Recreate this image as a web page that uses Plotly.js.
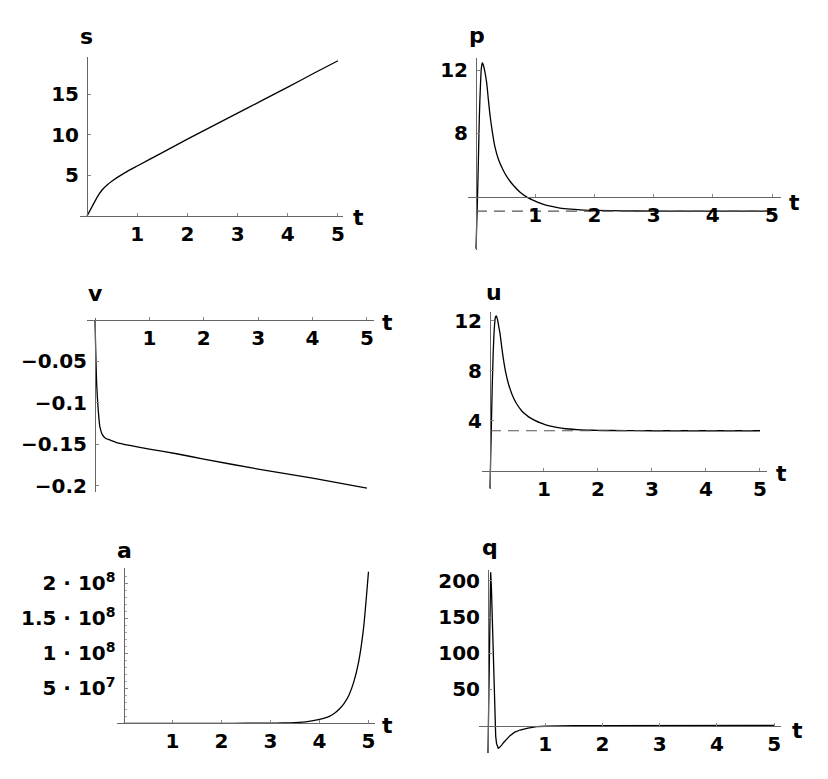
<!DOCTYPE html>
<html>
<head>
<meta charset="utf-8">
<script src="https://cdn.plot.ly/plotly-3.0.1.min.js"></script>
<style>
  html, body { margin: 0; padding: 0; background: #fff; }
  #graph { width: 828px; height: 779px; }
</style>
</head>
<body>
<div id="graph"></div>
<script>
// *********************************************************************************************
// DATA

const X_TICKS = [1, 2, 3, 4, 5];
const X_TICK_TEXT = ['1', '2', '3', '4', '5'];

const T_S = [0, 0.1, 0.2, 0.3, 0.4, 0.5, 0.75, 1, 1.5, 2, 2.5, 3, 3.5, 4, 4.5, 5];
const S = [0, 1.15, 2.3, 3.2, 3.8, 4.3, 5.3, 6.15, 7.8, 9.45, 11.05, 12.65, 14.25, 15.85, 17.5, 19.1];

const T_P = [0, 0.02, 0.04, 0.056, 0.075, 0.09, 0.107, 0.125, 0.15, 0.18, 0.21, 0.24, 0.28, 0.32, 0.38, 0.46, 0.54, 0.63, 0.74, 0.86, 1, 1.14, 1.28, 1.42, 1.6, 1.76, 2, 2.5, 3, 4, 5];
const P = [0.7, 3.2, 6.2, 9.0, 11.0, 12.1, 12.46, 12.3, 11.9, 11.2, 10.1, 9.05, 8.0, 7.15, 6.35, 5.67, 5.15, 4.72, 4.3, 3.97, 3.72, 3.51, 3.38, 3.28, 3.21, 3.17, 3.13, 3.1, 3.09, 3.09, 3.09];
const P_LIMIT = 3.09;

const T_V = [0, 0.013, 0.03, 0.06, 0.09, 0.14, 0.2, 0.28, 0.4, 0.64, 1, 1.5, 2, 3, 4, 5];
const V = [0, -0.036, -0.0765, -0.109, -0.129, -0.139, -0.143, -0.145, -0.148, -0.1515, -0.156, -0.1615, -0.168, -0.180, -0.191, -0.203];

const T_U = [0, 0.02, 0.04, 0.06, 0.08, 0.1, 0.115, 0.14, 0.16, 0.185, 0.215, 0.25, 0.29, 0.34, 0.41, 0.49, 0.59, 0.71, 0.83, 0.96, 1.1, 1.26, 1.4, 1.57, 1.8, 2, 2.5, 3, 4, 5];
const U = [-1.4, 2.5, 6.5, 9.5, 11.4, 12.3, 12.4, 12.1, 11.6, 11.0, 10.0, 8.9, 7.9, 7.0, 6.1, 5.4, 4.8, 4.35, 4.05, 3.8, 3.6, 3.46, 3.38, 3.32, 3.27, 3.25, 3.23, 3.22, 3.22, 3.22];
const U_LIMIT = 3.22;

const T_A = [0, 1, 2, 2.5, 3, 3.25, 3.5, 3.75, 4, 4.1, 4.2, 4.3, 4.4, 4.5, 4.6, 4.7, 4.8, 4.9, 5];
const A = [0, 0, 1e4, 5e4, 2e5, 4.5e5, 1e6, 2.3e6, 5.5e6, 7.5e6, 1.0e7, 1.4e7, 2.0e7, 2.8e7, 4.0e7, 5.9e7, 8.8e7, 1.36e8, 2.16e8];

const T_Q = [0, 0.015, 0.03, 0.047, 0.06, 0.08, 0.1, 0.12, 0.135, 0.15, 0.165, 0.18, 0.2, 0.22, 0.245, 0.27, 0.3, 0.33, 0.385, 0.46, 0.56, 0.7, 0.85, 1, 1.25, 1.5, 2, 3, 4, 5];
const Q = [-38, 60, 170, 212, 190, 125, 60, 5, -15, -25, -30, -31.5, -30.5, -29, -26.5, -23.8, -21, -18, -14, -9.5, -6.2, -3.5, -1.6, -1.0, -0.5, -0.3, -0.1, 0, 0, 0];

const S_TICKS = [5, 10, 15];
const S_TICK_TEXT = ['5', '10', '15'];
const P_TICKS = [8, 12];
const P_TICK_TEXT = ['8', '12'];
const V_TICKS = [-0.05, -0.1, -0.15, -0.2];
const V_TICK_TEXT = ['\u22120.05', '\u22120.1', '\u22120.15', '\u22120.2'];
const U_TICKS = [4, 8, 12];
const U_TICK_TEXT = ['4', '8', '12'];
const A_TICKS = [5e7, 1e8, 1.5e8, 2e8];
const A_TICK_TEXT = ['5 \u00b7 10<sup>7</sup>', '1 \u00b7 10<sup>8</sup>', '1.5 \u00b7 10<sup>8</sup>', '2 \u00b7 10<sup>8</sup>'];
const Q_TICKS = [50, 100, 150, 200];
const Q_TICK_TEXT = ['50', '100', '150', '200'];


// *********************************************************************************************
// PANELS (pixel boxes of each axis frame, measured on the 828 x 779 picture)

const W = 828, H = 779;
const FONT = 'DejaVu Sans, Liberation Sans, Arial, sans-serif';

const panels = [
    { name: 's', t: T_S, y: S, box: [80, 343, 57, 216], xr: [-0.14, 5.1], yr: [0, 19.56], cross: 0,
      ticks: S_TICKS, text: S_TICK_TEXT, label: [86, 37], tlabel: [358, 218], shape: 'spline' },
    { name: 'p', t: T_P, y: P, box: [468, 781, 58, 250], xr: [-0.135, 5.152], yr: [0.63, 12.76], cross: 4,
      ticks: P_TICKS, text: P_TICK_TEXT, label: [477, 35], tlabel: [794, 202], limit: P_LIMIT, shape: 'spline' },
    { name: 'v', t: T_V, y: V, box: [87, 374, 318, 492], xr: [-0.147, 5.13], yr: [-0.2077, 0.0024], cross: 0,
      ticks: V_TICKS, text: V_TICK_TEXT, label: [95, 293], tlabel: [387, 323], shape: 'spline' },
    { name: 'u', t: T_U, y: U, box: [482, 767, 311.7, 489], xr: [-0.148, 5.13], yr: [-1.44, 12.74], cross: 0,
      ticks: U_TICKS, text: U_TICK_TEXT, label: [494, 292], tlabel: [781, 473], limit: U_LIMIT, shape: 'spline' },
    { name: 'a', t: T_A, y: A, box: [117, 375, 568, 723.3], xr: [-0.133, 5.133], yr: [0, 2.214e8], cross: 0,
      ticks: A_TICKS, text: A_TICK_TEXT, label: [124, 550], tlabel: [387, 725], shape: 'spline', minor: 1e7 },
    { name: 'q', t: T_Q, y: Q, box: [479, 781, 570, 753], xr: [-0.157, 5.12], yr: [-38, 215], cross: 0,
      ticks: Q_TICKS, text: Q_TICK_TEXT, label: [490, 547], tlabel: [797, 730], shape: 'linear' }
];

const bold = (arr) => arr.map(s => '<b>' + s + '</b>');


// *********************************************************************************************
// TRACES + AXES

let data = [];
let layout = {
    width: W,
    height: H,
    margin: { t: 0, r: 0, b: 0, l: 0 },
    paper_bgcolor: '#fff',
    plot_bgcolor: '#fff',
    showlegend: false,
    annotations: []
};

const tickFont = { family: FONT, size: 20, color: '#000' };
const nameFont = { family: FONT, size: 22, color: '#000' };

panels.forEach((pn, i) => {
    const n = i + 1;
    const sfx = n === 1 ? '' : String(n);

    const [l, r, top, bot] = pn.box;
    const xdom = [l / W, r / W];
    const ydom = [1 - bot / H, 1 - top / H];

    // where the axes cross, as paper fractions
    const xpos = ydom[0] + (pn.cross - pn.yr[0]) / (pn.yr[1] - pn.yr[0]) * (ydom[1] - ydom[0]);
    const ypos = xdom[0] + (0 - pn.xr[0]) / (pn.xr[1] - pn.xr[0]) * (xdom[1] - xdom[0]);

    data.push({
        type: 'scatter', mode: 'lines',
        x: pn.t, y: pn.y,
        xaxis: 'x' + sfx, yaxis: 'y' + sfx,
        line: { color: '#000', width: 1.3, shape: pn.shape, smoothing: 0.6 },
        hoverinfo: 'skip'
    });

    if (pn.limit !== undefined) {
        data.push({
            type: 'scatter', mode: 'lines',
            x: [0, 5], y: [pn.limit, pn.limit],
            xaxis: 'x' + sfx, yaxis: 'y' + sfx,
            line: { color: '#555', width: 1.2, dash: '11px,7px' },
            hoverinfo: 'skip'
        });
    }

    layout['xaxis' + sfx] = {
        domain: xdom,
        range: pn.xr,
        anchor: 'free',
        position: xpos,
        showline: true, linecolor: '#666', linewidth: 1,
        showgrid: false, zeroline: false,
        tickvals: X_TICKS,
        ticktext: bold(X_TICK_TEXT),
        ticks: 'inside', ticklen: 3, tickcolor: '#888',
        tickfont: tickFont,
        fixedrange: true
    };

    let ya = {
        domain: ydom,
        range: pn.yr,
        anchor: 'free',
        position: ypos,
        showline: true, linecolor: '#666', linewidth: 1,
        showgrid: false, zeroline: false,
        tickvals: pn.ticks,
        ticktext: bold(pn.text),
        ticks: 'inside', ticklen: 3, tickcolor: '#888',
        ticklabelstandoff: 4,
        tickfont: tickFont,
        fixedrange: true
    };
    if (pn.minor) {
        ya.minor = { dtick: pn.minor, ticks: 'inside', ticklen: 2, tickcolor: '#aaa', showgrid: false };
    }
    layout['yaxis' + sfx] = ya;

    // axis names: the function above the y axis, t at the end of the x axis
    layout.annotations.push({
        text: '<b>' + pn.name + '</b>', xref: 'paper', yref: 'paper',
        x: pn.label[0] / W, y: 1 - pn.label[1] / H,
        xanchor: 'center', yanchor: 'middle', showarrow: false,
        font: nameFont
    });
    layout.annotations.push({
        text: '<b>t</b>', xref: 'paper', yref: 'paper',
        x: pn.tlabel[0] / W, y: 1 - pn.tlabel[1] / H,
        xanchor: 'center', yanchor: 'middle', showarrow: false,
        font: nameFont
    });
});


// *********************************************************************************************
// CONFIG + CREATE

const config = {
    displaylogo: false,
    displayModeBar: false,
    staticPlot: true
};

Plotly.newPlot('graph', data, layout, config);
</script>
</body>
</html>
